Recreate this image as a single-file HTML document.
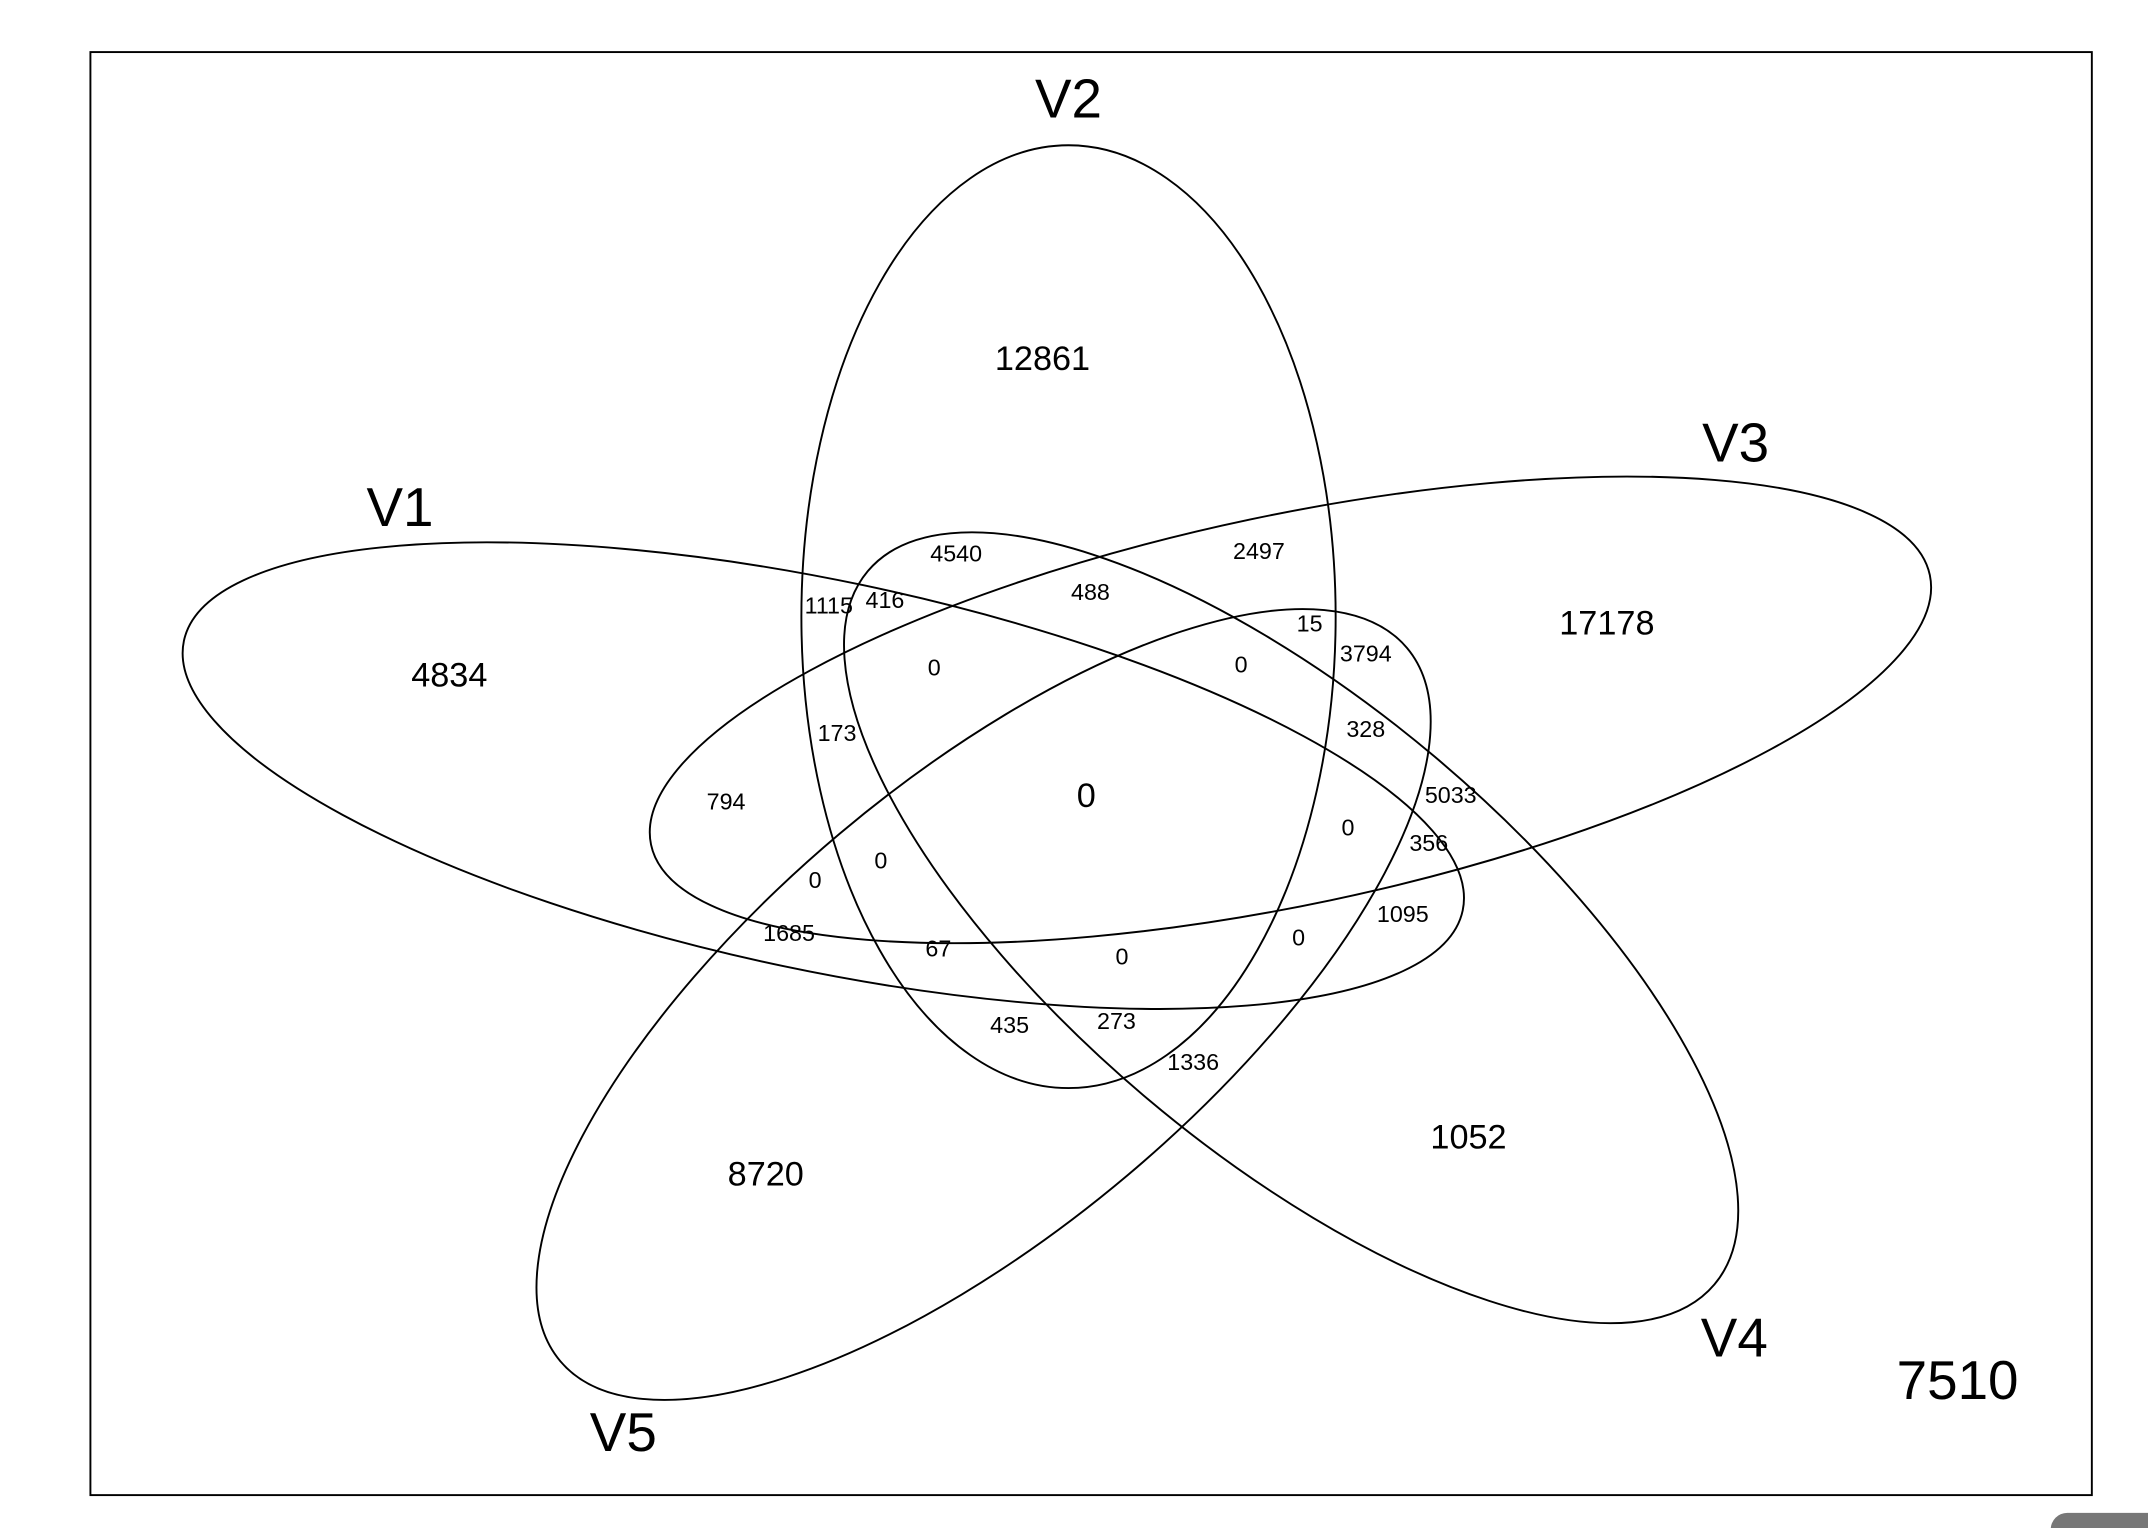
<!DOCTYPE html>
<html><head><meta charset="utf-8"><style>
html,body{margin:0;padding:0;background:#fff;width:2148px;height:1528px;overflow:hidden}
svg{display:block}
text{font-family:"Liberation Sans",Arial,sans-serif;fill:#000;text-anchor:middle;dominant-baseline:central}
.s{font-size:17px}.m{font-size:25px}.l{font-size:40px}
</style></head><body>
<svg width="2148" height="1528" viewBox="0 0 1568 1115" preserveAspectRatio="none" xmlns="http://www.w3.org/2000/svg">
<rect x="0" y="0" width="1568" height="1115" fill="#fff"/>
<rect x="66" y="38" width="1461" height="1053" fill="none" stroke="#000" stroke-width="1.4"/>
<g fill="none" stroke="#000" stroke-width="1.4">
<ellipse cx="601" cy="566" rx="477" ry="142" transform="rotate(11.9 601 566)"/>
<ellipse cx="780" cy="450" rx="195" ry="344"/>
<ellipse cx="942" cy="518" rx="477" ry="142" transform="rotate(-11.9 942 518)"/>
<ellipse cx="942.5" cy="677" rx="404" ry="163" transform="rotate(40.1 942.5 677)"/>
<ellipse cx="718" cy="733" rx="404" ry="163" transform="rotate(-40.1 718 733)"/>
</g>
<rect x="1497" y="1104" width="90" height="30" rx="12" fill="#777"/>
<text class="l" x="780" y="72">V2</text>
<text class="l" x="292" y="370">V1</text>
<text class="l" x="1267" y="323">V3</text>
<text class="l" x="1266" y="976">V4</text>
<text class="l" x="455" y="1045">V5</text>
<text class="l" x="1429" y="1007">7510</text>
<text class="m" x="761" y="262">12861</text>
<text class="m" x="328" y="493">4834</text>
<text class="m" x="1173" y="455">17178</text>
<text class="m" x="559" y="857">8720</text>
<text class="m" x="1072" y="830">1052</text>
<text class="m" x="793" y="581">0</text>
<text class="s" x="698" y="404">4540</text>
<text class="s" x="919" y="402">2497</text>
<text class="s" x="605" y="442">1115</text>
<text class="s" x="646" y="438">416</text>
<text class="s" x="796" y="432">488</text>
<text class="s" x="956" y="455">15</text>
<text class="s" x="997" y="477">3794</text>
<text class="s" x="682" y="487">0</text>
<text class="s" x="906" y="485">0</text>
<text class="s" x="611" y="535">173</text>
<text class="s" x="997" y="532">328</text>
<text class="s" x="530" y="585">794</text>
<text class="s" x="1059" y="580">5033</text>
<text class="s" x="984" y="604">0</text>
<text class="s" x="1043" y="615">356</text>
<text class="s" x="595" y="642">0</text>
<text class="s" x="643" y="628">0</text>
<text class="s" x="576" y="681">1685</text>
<text class="s" x="685" y="692">67</text>
<text class="s" x="819" y="698">0</text>
<text class="s" x="948" y="684">0</text>
<text class="s" x="1024" y="667">1095</text>
<text class="s" x="737" y="748">435</text>
<text class="s" x="815" y="745">273</text>
<text class="s" x="871" y="775">1336</text>
</svg>
</body></html>
